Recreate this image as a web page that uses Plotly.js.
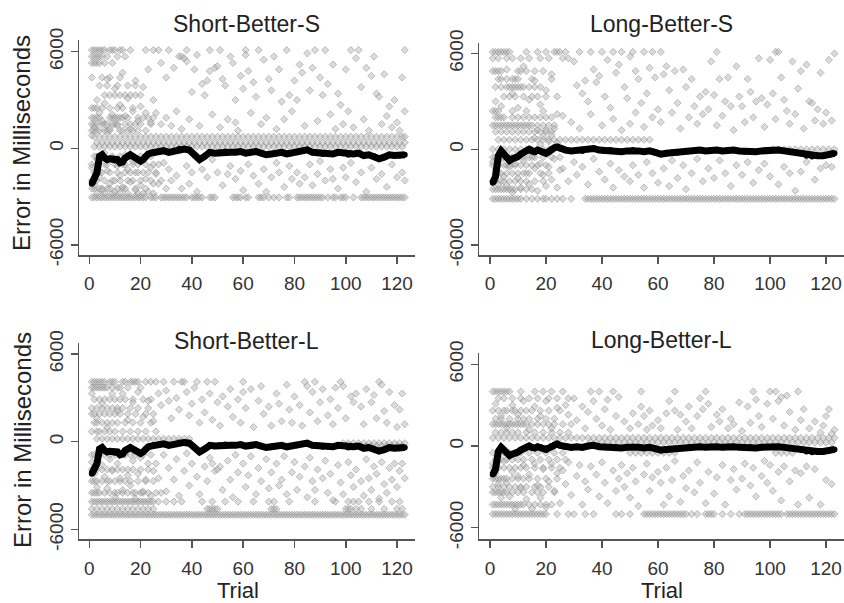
<!DOCTYPE html>
<html><head><meta charset="utf-8">
<script src="https://cdn.plot.ly/plotly-3.0.1.min.js"></script>
<style>html,body{margin:0;padding:0;background:#fff}#chart{width:844px;height:603px}</style>
</head><body><div id="chart"></div>
<script>
const panelTitles = ["Short-Better-S", "Long-Better-S", "Short-Better-L", "Long-Better-L"];
const yTitle = "Error in Milliseconds";
const xTitle = "Trial";
const xTicks = [0, 20, 40, 60, 80, 100, 120];
const yTicks = [-6000, 0, 6000];

// running mean (black line)
const meanTrials = [1,2,3,4,5,6,7,8,9,10,11,12,13,14,15,16,17,18,19,20,21,22,23,24,25,27,29,31,33,35,37,39,41,43,45,47,49,51,53,55,57,59,61,63,65,67,69,71,73,75,77,79,81,83,85,87,89,91,93,95,97,99,101,103,105,107,109,111,113,115,117,119,121,123];
const shortMean = [-2200,-1900,-1500,-500,-400,-600,-700,-650,-700,-750,-700,-900,-850,-600,-500,-400,-500,-600,-700,-800,-700,-500,-350,-300,-250,
 -200,-150,-250,-150,-50,-50,-100,-400,-700,-500,-250,-300,-250,-200,-250,-250,-200,-300,-250,-200,-300,-400,-350,-300,-250,-350,-300,-250,-150,-100,-250,-300,-350,-300,-350,-250,-300,-400,-350,-300,-450,-400,-500,-650,-550,-400,-450,-450,-400];
const longMean = [-2100,-1700,-400,-100,-300,-500,-700,-600,-550,-450,-300,-200,-100,0,-100,-150,-50,-100,-200,-250,-150,0,100,150,50,
 -50,-100,-50,-100,0,50,-50,-100,-50,-100,-150,-100,-50,-100,-150,-100,-200,-300,-250,-200,-200,-150,-100,-100,-50,-100,-50,-50,-100,-50,-50,-100,-150,-100,-150,-100,-50,-50,-50,-100,-150,-200,-250,-400,-450,-400,-400,-350,-250];

// Short-Better-S: rows [value, trials], then scattered [trial, value]
const sbsRows = [
 [6100,[1,2,3,4,5,6,8,9,10,12,13,16,22,25,31,38,47,51,61,66,77,88,92,102,105,123]],
 [5700,[1,2,3,4,5,7,11,14]],
 [5300,[1,2,3,4,6,9]],
 [4400,[1,5,8,12]],
 [3900,[4,7,11,15,18]],
 [3300,[6,8,10,12,14,16,18,20]],
 [2500,[1,2,3,5,8,11,13,17]],
 [1900,[1,2,3,4,8,9,10,11,12,13,15,19,21,23,25]],
 [1500,[1,2,3,5,6,7,9,10,11,14,16,18,20,24]],
 [1100,[1,2,3,4,6,7,8,12,13,15,17,19,22]],
 [720,[2,4,6,8,10,12,14,16,18,20,22,24,26,28,30,32,34,36,38,40,42,44,46,48,50,52,54,56,58,60,62,64,66,68,70,72,74,76,78,80,82,84,86,88,90,92,94,96,98,100,102,104,106,108,110,112,114,116,118,120,122,123]],
 [350,[3,5,7,9,11,13,15,17,19,21,23,25,27,29,31,33,35,37,39,41,43,45,47,49,51,53,55,57,59,61,63,65,67,69,71,73,75,77,79,81,83,85,87,89,91,93,95,97,99,101,103,105,107,109,111,113,115,117,119,121,123]],
 [100,[2,4,6,8,10,12,14,16,18,20,22,24,26,28,30,32,34,36,38,40,42,44,46,48,50,52,54,56,58,60,62,64,66,68,70,72,74,76,78,80,82,84,86,88,90,92,94,96,98,100,102,104,106,108,110,112,114,116,118,120,122]],
 [-500,[2,3,5,9,12,16,20,24]],
 [-1000,[1,3,6,7,10,13,14,17,19,22,25,27]],
 [-1500,[2,4,5,8,11,14,16,18,21,23,26]],
 [-2000,[1,2,3,6,9,10,12,15,17,20,24,28]],
 [-2500,[1,2,4,5,7,8,11,13,14,18,22,30]],
 [-2800,[3,6,9,12,15,19,21,25]],
 [-3050,[1,2,3,4,5,6,7,8,9,10,11,12,13,14,15,16,17,18,19,20,21,22,24,25,26,28,29,30,31,32,33,34,35,36,37,38,40,41,42,43,44,47,48,49,56,57,58,59,61,62,66,67,68,70,72,74,77,78,81,82,83,84,85,86,87,88,89,90,91,93,95,96,98,99,100,103,106,107,108,109,110,111,112,113,114,115,116,117,118,119,120,121,122,123]]
];
const sbsPts = [[27,6100],[28,5300],[30,4400],[33,5000],[35,5700],[36,5700],[37,5600],[38,5400],[40,3500],[41,4900],[42,5800],[44,4000],[45,3300],[46,4200],[47,4800],[49,5000],[50,5100],[52,4300],[53,3900],[55,5700],[56,5300],[57,3000],[59,4500],[60,3700],[61,5800],[62,4800],[64,4100],[65,3200],[68,5500],[70,4300],[71,3600],[72,5700],[74,4900],[75,2900],[78,3300],[80,4200],[81,3000],[82,5200],[83,4700],[85,5900],[86,3600],[87,5000],[90,4400],[91,3300],[93,4000],[95,5200],[97,3400],[98,2700],[100,4900],[104,5600],[106,3800],[108,5000],[110,4500],[111,5700],[112,3400],[113,3200],[115,4600],[117,2600],[119,3000],[120,1600],[122,4400],[123,2300],
 [26,2200],[28,1500],[30,1900],[32,1400],[34,2300],[36,1200],[39,1800],[43,1400],[48,2100],[51,1300],[54,1800],[57,1600],[58,1100],[63,2200],[67,1500],[69,1900],[73,1200],[76,1800],[79,2300],[84,1400],[89,1700],[94,2100],[96,1200],[99,1500],[101,2300],[103,1300],[107,1800],[109,1100],[114,1500],[116,2000],[118,1300],[121,1100],
 [26,-1600],[27,-2200],[29,-900],[31,-1300],[32,-2000],[34,-1700],[36,-2500],[38,-1100],[39,-2200],[40,-1500],[42,-2700],[44,-1300],[46,-1800],[48,-700],[50,-1500],[52,-2300],[54,-1600],[55,-1100],[57,-1900],[59,-1400],[60,-2600],[62,-1000],[64,-1700],[66,-2200],[68,-1300],[69,-2700],[71,-1800],[73,-900],[74,-1500],[76,-2400],[78,-1100],[79,-1900],[81,-1500],[82,-2200],[84,-1800],[86,-1000],[87,-2300],[89,-1600],[90,-800],[92,-2000],[94,-1300],[95,-1900],[97,-2500],[99,-1200],[100,-1800],[102,-900],[104,-2100],[106,-1500],[108,-2700],[110,-1200],[112,-1900],[114,-1600],[116,-2400],[118,-1000],[120,-1800],[122,-1500],[123,-2000],
 [1,-1200],[2,-2300],[3,-700],[4,-1800],[5,-2600],[6,-300],[7,-1400],[8,-2200],[9,-600],[10,-2700],[11,-1100],[12,-1700],[13,-2400],[14,-400],[15,-1300],[16,-2100],[17,-800],[18,-2600],[19,-1500],[20,-2300],[21,-600],[22,-1900],[23,-2700],[24,-1200],[25,-2200],
 [1,800],[2,1300],[3,3000],[4,2200],[5,1700],[6,2800],[7,4300],[8,1200],[9,2100],[10,3700],[11,1400],[12,2700],[13,4700],[14,2000],[15,3100],[16,1200],[17,2300],[18,4200],[19,1700],[20,2600],[21,3800],[22,2200],[23,4900],[24,1600],[25,3000]];

// Long-Better-S
const lbsRows = [
 [6100,[1,2,3,4,5,6,7,13,17,20,23,24,25,27,32,36,40,44,47,51,55,58,61,81,102,103]],
 [5700,[1,3,6,8,11,14,18,21,26]],
 [4900,[1,2,3,4,10,11,13,16,19]],
 [4400,[3,4,6,8,9,10,15,22]],
 [3900,[2,4,6,7,8,9,10,11,12,14,16,18]],
 [3300,[5,7,9,12,15,17,20,24]],
 [2400,[1,2,3,8,13,19]],
 [2000,[2,3,4,5,8,10,12,14,16,18,20,22]],
 [1500,[1,2,3,4,5,6,7,8,9,10,11,12,13,14,15,17,19,21,23]],
 [1100,[2,4,6,8,10,12,14,16,18,20,22]],
 [600,[3,5,7,9,11,13,15,17,19,21,23,25,27,29,31,33,35,37,39,41,43,45,47,49,51,53,55,57]],
 [0,[1,3,5,7,9,11,13,15,17,19,21,23,101,103,105,107,109,111,113,115,117,119,121,123]],
 [-500,[1,2,4,5,7,8,10,12,14,16,19,22,25]],
 [-1000,[1,3,5,6,7,9,11,13,15,17,20]],
 [-1500,[2,3,4,6,8,10,12,14,18,21]],
 [-2000,[1,2,4,5,7,9,11,13,16,19]],
 [-2500,[1,2,3,4,5,6,7,8,9,11,13,15]],
 [-3100,[1,2,3,4,5,6,7,8,9,10,11,13,15,17,19,20,22,24,26,29,34,35,36,37,38,39,40,41,42,43,44,45,46,47,48,49,50,51,52,53,54,55,56,57,58,59,60,61,62,63,64,65,66,67,68,69,70,71,72,73,74,75,76,77,78,79,80,81,82,83,84,85,86,87,88,89,90,91,92,93,94,95,96,97,98,99,100,101,102,103,104,105,106,107,108,109,110,111,112,113,114,115,116,117,118,119,120,121,122,123]]
];
const lbsPts = [[28,5700],[30,5500],[31,4000],[33,3500],[34,4300],[35,3000],[37,5000],[38,4200],[39,4600],[41,3300],[42,5600],[43,2600],[45,4800],[46,5300],[48,3900],[49,3200],[50,5800],[52,4900],[53,4400],[54,2900],[56,3500],[57,5100],[59,4500],[60,2500],[62,4700],[63,5200],[64,3700],[66,4900],[67,2900],[69,5000],[70,3900],[72,4400],[73,2700],[75,3300],[77,3600],[78,2500],[79,5500],[80,3400],[82,4400],[84,3000],[85,4500],[86,2700],[88,5200],[89,3300],[90,2700],[92,4400],[93,3600],[95,3000],[96,5700],[97,3200],[99,2800],[100,5600],[101,3500],[104,4500],[105,3100],[106,2400],[108,5500],[110,3800],[111,4900],[113,5300],[114,3000],[115,2900],[117,2500],[118,4800],[120,2300],[121,5600],[123,6000],
 [26,2100],[29,1700],[32,1300],[36,2200],[40,1500],[44,1900],[47,1200],[50,1600],[52,2300],[55,1400],[58,2000],[61,1700],[65,2300],[68,1300],[71,2000],[74,1600],[76,2200],[81,1500],[83,2100],[87,1200],[91,1700],[94,2000],[98,1400],[102,1900],[107,1600],[109,2200],[112,1300],[116,1800],[119,1600],[122,1800],
 [16,700],[17,1200],[18,300],[19,800],[20,1200],[21,500],[22,900],[23,1300],[24,400],
 [26,-1200],[28,-2000],[30,-800],[31,-1600],[33,-1100],[35,-2200],[37,-600],[39,-1400],[41,-1900],[43,-900],[44,-2400],[46,-1300],[48,-1700],[50,-2000],[51,-1000],[53,-1600],[55,-2400],[56,-800],[58,-1500],[60,-2100],[62,-1200],[64,-2300],[65,-700],[67,-1800],[69,-1000],[70,-2500],[72,-1500],[74,-600],[76,-2000],[78,-1200],[80,-1800],[82,-700],[84,-1500],[86,-2300],[88,-1000],[90,-1600],[92,-800],[94,-2100],[96,-1300],[98,-900],[100,-1700],[103,-2200],[105,-1100],[107,-1500],[109,-2600],[111,-1400],[113,-800],[116,-1900],[118,-1200],[120,-1000],[122,-1100],
 [1,-800],[2,-1300],[3,-2200],[4,-600],[5,-1700],[6,-2300],[7,-1100],[8,-2700],[9,-900],[10,-1800],[11,-2400],[12,-700],[13,-1500],[14,-2200],[15,-500],[16,-1200],[17,-2600],[18,-900],[19,-1600],[20,-2300],[21,-1100],[22,-1900],[23,-600],[24,-2400],[25,-1300],
 [2,3000],[4,2700],[6,5000],[8,3500],[10,2600],[12,5200],[14,3100],[16,4300],[18,2800],[20,3700],[22,4700],[24,2200]];

// Short-Better-L
const sblRows = [
 [4100,[1,2,3,4,5,6,8,9,10,13,14,16,17,18,19,22,24,26,29,33,36,37,42,46,49,60,84,88,98,113]],
 [3700,[1,2,3,4,5,6,7,9,11,12,15,20]],
 [2900,[2,4,6,8,10,12,14,17,21,24]],
 [2300,[1,3,5,7,9,11,13,16,19,23]],
 [1900,[1,2,4,6,8,10,12,15,18,22,25]],
 [1300,[2,3,5,7,9,11,14,17,20,24]],
 [700,[1,3,4,6,8,10,13,16,19,22,26]],
 [200,[3,5,7,9,11,13,15,17,19,21,23,25,27,29,31,33,35,37,39]],
 [-100,[99,101,103,105,107,109,111,113,115,117,119,121,123]],
 [-300,[100,102,104,106,108,110,112,114,116,118,120,122]],
 [-900,[1,2,4,6,8,10,12,14,16,18,21,24]],
 [-1900,[1,3,5,7,9,11,13,15,17,20,23]],
 [-2700,[1,2,3,5,7,8,10,12,14,16,19,22,25]],
 [-3500,[1,2,3,4,6,8,10,11,13,15,17,18,20,21,23,26,28]],
 [-4100,[1,2,3,4,5,6,7,8,9,10,11,12,13,14,15,16,17,18,19,20,21,22,23,24,25,27,30,33,36,44,48,53,58,64,70,78,88,96,101,103,105,109,113,118,121]],
 [-4600,[1,3,5,7,9,11,13,15,17,19,21,23,25,46,47,48,49,50,71,72,73,100,101,102,104,106,110,115,120,122]],
 [-5000,[1,2,3,4,5,6,7,8,9,10,11,12,13,14,15,16,17,18,19,20,21,22,23,24,25,26,27,28,29,30,31,32,33,34,35,36,37,38,39,40,41,42,43,44,45,46,47,48,49,50,51,52,53,54,55,56,57,58,59,60,61,62,63,64,65,66,67,68,69,70,71,72,73,74,75,76,77,78,79,80,81,82,83,84,85,86,87,88,89,90,91,92,93,94,95,96,97,98,99,100,101,102,103,104,105,106,107,108,109,110,111,112,113,114,115,116,117,118,119,120,121,122,123]]
];
const sblPts = [[27,3300],[28,2500],[30,3500],[31,2800],[32,1600],[34,3000],[35,2200],[38,3400],[39,1800],[40,2600],[41,3700],[43,1300],[44,2900],[45,2000],[47,3300],[48,1500],[50,2700],[51,1100],[52,3100],[54,2400],[55,3600],[56,1700],[58,2900],[59,1300],[60,3400],[61,2300],[63,3600],[64,1000],[66,2800],[67,3800],[68,1900],[70,2400],[71,1100],[73,3300],[74,2600],[75,1400],[77,3900],[78,2200],[79,1300],[80,3100],[82,2500],[83,1100],[85,3800],[86,2000],[87,3400],[89,1400],[90,2700],[91,3600],[93,1800],[94,2900],[95,1200],[96,3700],[97,2300],[99,3800],[100,1600],[102,3100],[103,2700],[104,3300],[106,2400],[107,1200],[108,3600],[110,2700],[111,3200],[112,1600],[114,3900],[115,2100],[116,1300],[117,3400],[119,2500],[120,1000],[121,2200],[122,3300],[123,1200],
 [26,-1500],[27,-2500],[29,-900],[30,-3400],[31,-1800],[33,-2600],[34,-1200],[35,-3700],[37,-2000],[38,-800],[39,-3000],[40,-1500],[42,-2400],[43,-3600],[45,-1700],[46,-2700],[47,-1100],[48,-1500],[49,-2000],[50,-1900],[51,-1700],[52,-3300],[54,-1300],[55,-2600],[56,-3800],[57,-900],[58,-2100],[60,-1500],[61,-3100],[62,-2300],[63,-1000],[65,-3600],[66,-1800],[67,-2700],[69,-1200],[70,-3200],[71,-2100],[72,-4100],[73,-1500],[74,-3000],[75,-2600],[76,-1000],[77,-3600],[79,-2100],[80,-1400],[81,-3300],[82,-2400],[84,-1700],[85,-3800],[86,-1100],[87,-2700],[88,-3300],[89,-1900],[91,-2500],[92,-1300],[93,-3500],[94,-2200],[95,-4000],[97,-1600],[98,-2800],[99,-3600],[101,-1400],[102,-2300],[103,-3100],[104,-1900],[106,-2700],[107,-3700],[108,-1200],[109,-2500],[110,-3300],[111,-1700],[112,-2200],[113,-3900],[114,-1400],[115,-2900],[116,-3500],[117,-1800],[118,-2600],[119,-1500],[120,-3100],[121,-2000],[122,-1500],[123,-2500],
 [1,-1400],[2,-2200],[3,-3100],[4,-600],[5,-1600],[6,-2400],[7,-3200],[8,-1200],[9,-2000],[10,-3800],[11,-1500],[12,-2500],[13,-3300],[14,-700],[15,-2300],[16,-3000],[17,-1300],[18,-3900],[19,-2200],[20,-1100],[21,-3400],[22,-2600],[23,-1500],[24,-3700],[25,-2000],
 [1,3300],[3,1600],[5,2600],[7,1000],[9,3300],[11,2100],[13,3300],[15,1500],[17,2700],[19,3400],[21,1700],[23,2800],[25,1400]];

// Long-Better-L
const lblRows = [
 [4000,[1,2,3,4,5,6,7,11,16,19,22,26,36,39,44,54,66,77,94,100,102,110]],
 [3500,[3,5,8,11,14,17,21,24,28]],
 [2600,[1,3,5,6,8,9,11,13,15,18,21,25]],
 [2000,[2,4,7,10,12,14,17,20,23]],
 [1600,[1,2,3,4,5,6,7,8,9,10,11,12,13,15,17,19,21,23,26,29]],
 [1000,[2,4,6,8,10,13,16,19,22,25,28]],
 [600,[1,3,5,7,9,11,13,15,17,19,21,23,25,27,29,31,33,35,37,39,41,43,45,47,49,51,53,55,57,59,61,63,65,67,69,71,73,75,77,79,81,83,85,87,89,91,93,95,97,99,101,103,105,107,109,111,113,115,117,119,121,123]],
 [250,[36,38,40,42,44,46,48,50,52,54,56,58,60,62,64,66,68,70,72,74,76,78,80,82,84,86,88,90,92,94,96,98,100,102,104,106,108,110,112,114,116,118,120,122]],
 [-500,[1,3,5,7,9,11,14,17,20,23,26,50,52,54,56,58,60,62,64,66,102,104,106,108]],
 [-1000,[2,4,6,8,10,12,15,18,21,24,27]],
 [-1600,[1,2,3,5,7,9,11,13,16,19,22,25]],
 [-2400,[1,2,3,4,5,6,8,10,12,14,17,20,24]],
 [-3000,[1,3,5,7,9,11,13,16,18,21]],
 [-3400,[1,2,3,4,5,6,8,10,12,15,17,19,23]],
 [-4300,[1,2,3,4,5,6,7,8,9,10,11,12,14,16,18,20,22]],
 [-5000,[1,2,3,4,5,6,7,8,9,10,11,12,13,14,15,16,17,18,19,20,24,28,30,34,37,45,47,50,55,56,57,58,59,60,61,62,63,64,65,66,67,68,69,70,72,74,77,78,79,80,83,86,89,91,92,93,94,95,96,97,98,99,100,101,102,103,104,106,107,108,109,110,111,112,113,114,115,116,117,118,119,120,121,122,123]]
];
const lblPts = [[27,3000],[28,2300],[30,3500],[31,1900],[33,2900],[34,1300],[35,2500],[37,3300],[38,2000],[40,1500],[41,2700],[42,3400],[43,1200],[45,2200],[46,3600],[48,1800],[50,1300],[51,2400],[53,1600],[54,2900],[55,2200],[56,1200],[57,2600],[58,1500],[60,1900],[61,1300],[63,2400],[64,3300],[66,2600],[67,1200],[68,2300],[70,1800],[71,2900],[72,1300],[74,2200],[75,3500],[76,2700],[78,3100],[79,1400],[81,2300],[82,1800],[83,2700],[85,1300],[86,2000],[87,1600],[89,3200],[90,1100],[92,2900],[93,1700],[95,3400],[96,2200],[97,1400],[99,3100],[101,2000],[103,3300],[104,3600],[105,1500],[106,3700],[107,2500],[109,1200],[111,1900],[112,2700],[114,1300],[116,1800],[118,1000],[119,1500],[120,2200],[121,2700],[122,900],[123,1200],
 [26,-1800],[27,-2800],[28,-1200],[29,-3600],[31,-2200],[32,-1400],[33,-4300],[34,-2600],[35,-3200],[36,-1500],[38,-2100],[39,-3700],[40,-1200],[41,-2700],[42,-4200],[44,-1800],[45,-3300],[46,-2400],[47,-1400],[48,-3000],[49,-2000],[50,-3800],[51,-1600],[52,-2600],[53,-4400],[55,-2100],[56,-1300],[57,-3300],[58,-2300],[60,-1900],[61,-2700],[62,-4300],[63,-1600],[64,-3700],[65,-2500],[66,-1100],[68,-4100],[69,-2200],[70,-3100],[71,-1800],[73,-3400],[74,-1200],[75,-2700],[77,-4200],[78,-1900],[80,-3500],[81,-2300],[83,-1400],[84,-4300],[86,-2500],[87,-1700],[88,-3200],[90,-2400],[91,-1300],[93,-2900],[94,-1600],[95,-3700],[97,-2200],[98,-1100],[99,-2700],[100,-1400],[101,-3300],[103,-1900],[104,-4000],[105,-1500],[107,-2600],[109,-1800],[110,-4300],[111,-2000],[113,-1500],[114,-3800],[116,-1700],[118,-4300],[120,-2500],[122,-2800],
 [1,-1300],[2,-2000],[3,-2800],[4,-3800],[5,-1100],[6,-2700],[7,-3700],[8,-1900],[9,-4600],[10,-2200],[11,-3100],[12,-1400],[13,-3900],[14,-2100],[15,-4600],[16,-1300],[17,-2900],[18,-3800],[19,-1700],[20,-4500],[21,-2600],[22,-1300],[23,-3300],[24,-2000],[25,-4200],
 [2,3100],[4,2200],[6,1300],[8,3000],[10,2300],[12,3300],[14,1200],[16,2900],[18,2200],[20,3300],[22,1300],[24,2800]];

function expand(rows, pts) {
  const x = [], y = [];
  rows.forEach(([v, ts]) => ts.forEach(t => { x.push(t); y.push(v); }));
  pts.forEach(([t, v]) => { x.push(t); y.push(v); });
  return {x, y};
}

const panels = [
  {data: expand(sbsRows, sbsPts), mean: shortMean},
  {data: expand(lbsRows, lbsPts), mean: longMean},
  {data: expand(sblRows, sblPts), mean: shortMean},
  {data: expand(lblRows, lblPts), mean: longMean}
];

const W = 844, H = 603;
const FONT = "Liberation Sans, Arial, Helvetica, sans-serif";
const traces = [];
panels.forEach((p, i) => {
  const xa = i === 0 ? 'x' : 'x' + (i + 1);
  const ya = i === 0 ? 'y' : 'y' + (i + 1);
  traces.push({
    type: 'scatter', mode: 'markers', x: p.data.x, y: p.data.y, xaxis: xa, yaxis: ya,
    marker: {symbol: 'diamond', size: 5.5, color: 'rgba(175,175,175,0.45)',
             line: {color: 'rgba(115,115,115,0.5)', width: 0.8}},
    hoverinfo: 'skip', showlegend: false
  });
  traces.push({
    type: 'scatter', mode: 'lines+markers', x: meanTrials, y: p.mean, xaxis: xa, yaxis: ya,
    line: {color: '#000', width: 7}, marker: {color: '#000', size: 6},
    hoverinfo: 'skip', showlegend: false
  });
});

// pixel geometry of each panel: [left, right], [top, bottom], x range, y range
const geo = [
  {px: [79, 415], py: [40, 255], xr: [-4.0, 127.0], yr: [-6627, 6727]},
  {px: [479.3, 844], py: [42.7, 255], xr: [-3.8, 126.4], yr: [-6620, 6676]},
  {px: [79, 415], py: [343.3, 539.3], xr: [-4.0, 127.0], yr: [-6681, 6736]},
  {px: [479.3, 844], py: [353.3, 539.3], xr: [-3.8, 126.4], yr: [-6852, 6808]}
];

const layout = {
  width: W, height: H, margin: {l: 0, r: 0, t: 0, b: 0},
  paper_bgcolor: '#fff', plot_bgcolor: '#fff', showlegend: false,
  font: {family: FONT, color: '#222'},
  annotations: []
};
geo.forEach((g, i) => {
  const sx = i === 0 ? '' : String(i + 1);
  layout['xaxis' + sx] = {
    domain: [g.px[0] / W, Math.min(1, g.px[1] / W)], anchor: 'y' + sx, range: g.xr,
    tickvals: xTicks, ticktext: xTicks.map(String), ticks: 'outside', ticklen: 7, tickwidth: 1.5,
    tickcolor: '#555', showline: true, linecolor: '#555', linewidth: 1.5,
    showgrid: false, zeroline: false, tickfont: {size: 19, color: '#333', family: FONT},
    ticklabelstandoff: 4
  };
  layout['yaxis' + sx] = {
    domain: [1 - g.py[1] / H, 1 - g.py[0] / H], anchor: 'x' + sx, range: g.yr,
    tickvals: yTicks, ticktext: yTicks.map(String), ticks: 'outside', ticklen: 7, tickwidth: 1.5,
    tickcolor: '#555', showline: true, linecolor: '#555', linewidth: 1.5, tickangle: -90,
    showgrid: false, zeroline: false, tickfont: {size: 19, color: '#333', family: FONT}
  };
});

const titlePos = [[246.5, 24], [661, 24], [246, 341], [661, 340]];
panelTitles.forEach((t, i) => {
  layout.annotations.push({text: t, xref: 'paper', yref: 'paper', x: titlePos[i][0] / W, y: 1 - titlePos[i][1] / H,
    xanchor: 'center', yanchor: 'middle', showarrow: false, font: {size: 23, color: '#222', family: FONT}});
});
[[21, 143], [22, 440]].forEach(p => {
  layout.annotations.push({text: yTitle, xref: 'paper', yref: 'paper', x: p[0] / W, y: 1 - p[1] / H,
    xanchor: 'center', yanchor: 'middle', textangle: -90, showarrow: false, font: {size: 24, color: '#222', family: FONT}});
});
[[238, 590], [662, 590]].forEach(p => {
  layout.annotations.push({text: xTitle, xref: 'paper', yref: 'paper', x: p[0] / W, y: 1 - p[1] / H,
    xanchor: 'center', yanchor: 'middle', showarrow: false, borderpad: 0, font: {size: 22, color: '#222', family: FONT}});
});

Plotly.newPlot('chart', traces, layout, {staticPlot: true, displayModeBar: false});
</script>
</body></html>
